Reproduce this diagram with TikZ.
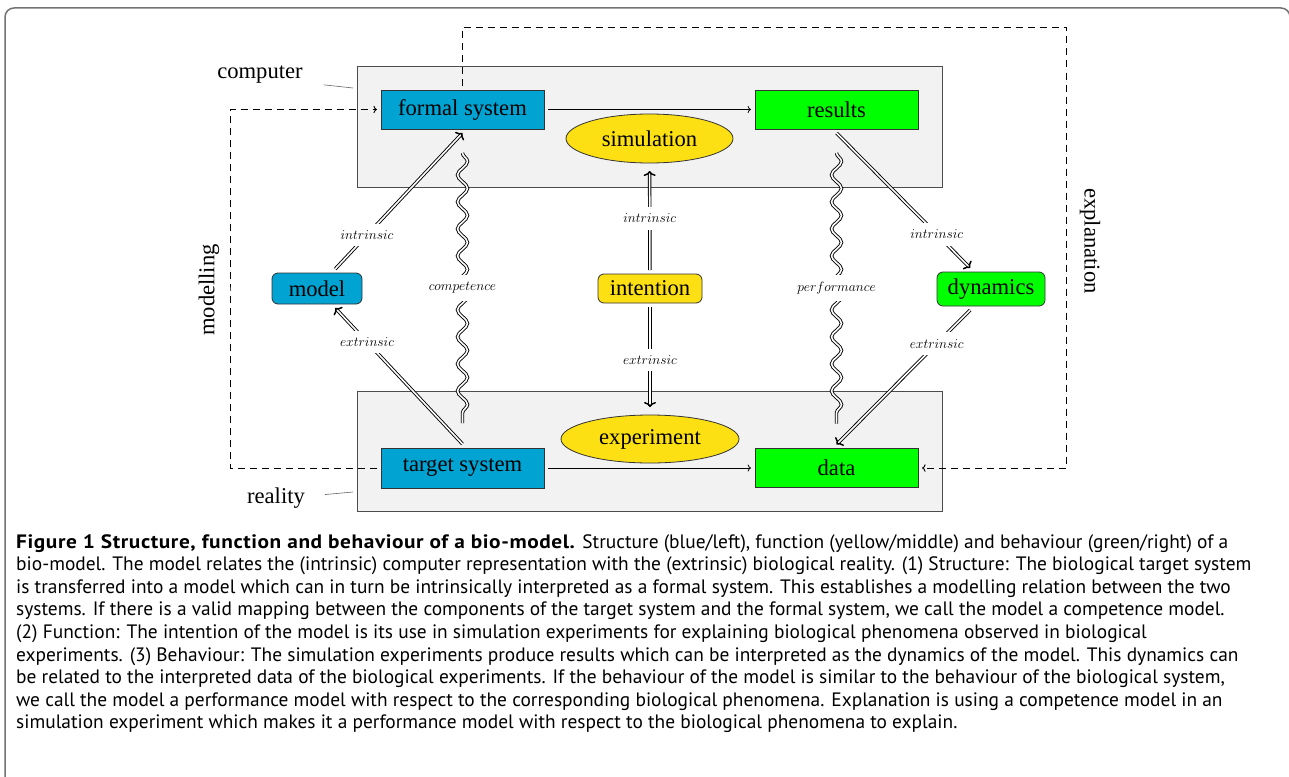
\RequirePackage{fix-cm}
\documentclass[tikz,border=0pt]{standalone}
\usepackage{fontspec}
\setmainfont{Liberation Serif}
\newfontfamily\capfont[BoldFeatures={FakeStretch=1.1,LetterSpace=3}]{PT Sans}
\usetikzlibrary{arrows.meta}
\usetikzlibrary{decorations.pathmorphing}
\usetikzlibrary{shapes.geometric}
\definecolor{structblue}{RGB}{0,163,209}
\definecolor{funcyellow}{RGB}{252,224,20}
\definecolor{behavgreen}{RGB}{0,255,0}
\definecolor{worldgray}{RGB}{242,242,242}
\newcommand{\boxfont}{\fontsize{22.6}{24}\selectfont}
\newcommand{\tagfont}{\fontsize{13.6}{15}\selectfont}
\newcommand{\boxwidth}{163pt}

\begin{document}
\begin{tikzpicture}[x=1pt,y=1pt,
    system/.style={rectangle,draw=black!80,line width=0.8pt,minimum width=\boxwidth,minimum height=39pt},
    process/.style={ellipse,draw=black!80,line width=0.8pt,fill=funcyellow,outer sep=8pt},
    facet/.style={rectangle,rounded corners=6pt,draw=black!80,line width=0.8pt,minimum height=31pt},
    tag/.style={fill=white,inner sep=7pt,font=\tagfont}]

                \useasboundingbox (0,0) rectangle (1289,-776);
                \draw[black!55,line width=1.5pt,rounded corners=9pt] (5,-790) -- (5,-8) -- (1290,-8) -- (1290,-790);

                \begin{scope}[every node/.style={draw=black!70,line width=0.9pt,fill=worldgray,minimum width=585pt,inner sep=0pt}]
                    \node[minimum height=121pt] (computer) at (649.5,-126.5) {};
                    \node[minimum height=120pt] (reality) at (649.5,-451) {};
                \end{scope}

                \begin{scope}[every node/.style={inner sep=0pt,outer sep=4pt,font=\boxfont}]
                    \node[system,fill=structblue] (formal system) at (462.5,-109.5) {formal system};
                    \node[system,fill=behavgreen] (results) at (836.5,-109.5) {results};
                    \node[system,fill=structblue,minimum height=40pt] (target system) at (462.5,-468) {target system};
                    \node[system,fill=behavgreen] (data) at (836.5,-468) {data};
                    \node[process,minimum width=167pt,minimum height=49pt] (simulation) at (649.5,-138.5) {simulation};
                    \node[process,minimum width=178pt,minimum height=48pt] (experiment) at (650,-439) {experiment};
                    \node[facet,fill=structblue,minimum width=90pt] (model) at (317,-288.5) {model};
                    \node[facet,fill=funcyellow,minimum width=104pt,minimum height=29pt] (intention) at (650,-288.5) {intention};
                    \node[facet,fill=behavgreen,minimum width=108pt,minimum height=34pt] (dynamics) at (991,-289) {dynamics};
                    \node (computer label) at (260,-75) {computer};
                    \node (reality label) at (276,-498) {reality};
                    \node[rotate=90] (modelling label) at (209,-290) {modelling};
                    \node[rotate=-90] (explanation label) at (1090,-241) {explanation};
                \end{scope}

                \coordinate (computer tag) at (353,-88);
                \coordinate (reality tag) at (353,-492);
                \draw[black!60,line width=0.6pt,shorten <=17pt] ([yshift=-8pt]computer label.east) -- (computer tag);
                \draw[black!60,line width=0.6pt,shorten <=16pt] ([yshift=2pt]reality label.east) -- (reality tag);

                \begin{scope}[every edge/.style={draw,line width=0.8pt}]
                    \path [->] (formal system) edge (results);
                    \path [->] (target system) edge (data);
                \end{scope}

                \begin{scope}[>={Computer Modern Rightarrow[width=12pt,length=5pt,line width=1.5pt]},
                    every edge/.style={draw,double,line width=0.9pt,double distance=1.6pt}]
                    \path [->] (model) edge node[tag,pos=0.25] {$intrinsic$} (formal system.south);
                    \path [->] (target system.north) edge node[tag,pos=0.75] {$extrinsic$} (model);
                    \path [->] (intention) edge node[tag,pos=0.52] {$intrinsic$} (simulation);
                    \path [->] (intention) edge node[tag,pos=0.53] {$extrinsic$} (experiment);
                    \path [->] (results.south) edge node[tag,pos=0.75] {$intrinsic$} (dynamics);
                    \path [->] (dynamics) edge node[tag,pos=0.25] {$extrinsic$} (data.north);
                \end{scope}

                \begin{scope}[decoration={snake,segment length=27pt,amplitude=5pt,post length=10pt}]
                    \draw[double,line width=0.9pt,double distance=1.6pt,decorate] ([yshift=-20pt]formal system.south) -- node[tag] {$competence$} ([yshift=21pt]target system.north);
                    \draw[double,line width=0.9pt,double distance=1.6pt,decorate] ([yshift=-20pt]results.south) -- node[tag] {$performance$} ([yshift=21pt]data.north);
                \end{scope}

                \begin{scope}[dashed line/.style={draw,line width=0.9pt,dash pattern=on 7pt off 5pt,->}]
                    \coordinate (modelling turn) at (230,-290);
                    \coordinate (explanation turn) at (1066,-27);
                    \path [dashed line] (target system.west) -| (modelling turn) |- (formal system.west);
                    \path [dashed line] (formal system.north) |- (explanation turn) |- (data.east);
                \end{scope}

                \node[anchor=north west,align=left,inner sep=0pt,font=\capfont\fontsize{19.4}{22.6}\selectfont] (caption) at (16,-534) {\textbf{Figure 1 Structure, function and behaviour of a bio-model.} Structure (blue/left), function (yellow/middle) and behaviour (green/right) of a\\
                bio-model. The model relates the (intrinsic) computer representation with the (extrinsic) biological reality. (1) Structure: The biological target system\\
                is transferred into a model which can in turn be intrinsically interpreted as a formal system. This establishes a modelling relation between the two\\
                systems. If there is a valid mapping between the components of the target system and the formal system, we call the model a competence model.\\
                (2) Function: The intention of the model is its use in simulation experiments for explaining biological phenomena observed in biological\\
                experiments. (3) Behaviour: The simulation experiments produce results which can be interpreted as the dynamics of the model. This dynamics can\\
                be related to the interpreted data of the biological experiments. If the behaviour of the model is similar to the behaviour of the biological system,\\
                we call the model a performance model with respect to the corresponding biological phenomena. Explanation is using a competence model in an\\
                simulation experiment which makes it a performance model with respect to the biological phenomena to explain.};
            \end{tikzpicture}
\end{document}
